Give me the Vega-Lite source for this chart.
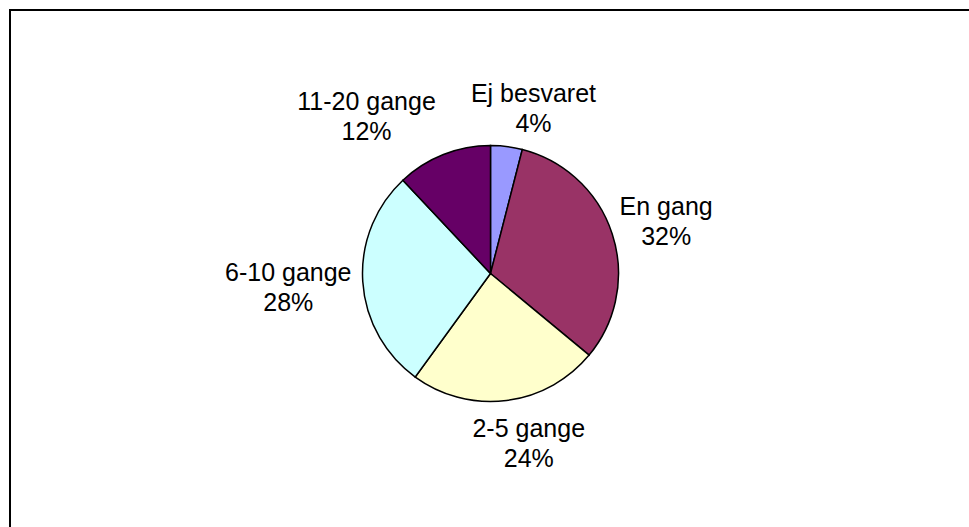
{
  "$schema": "https://vega.github.io/schema/vega-lite/v6.json",
  "width": 961,
  "height": 527,
  "autosize": {"type": "none"},
  "padding": {"left": 10, "top": 10, "right": -2, "bottom": -10},
  "background": "white",
  "view": {"stroke": "black", "strokeWidth": 2, "fill": "white"},
  "config": {
    "font": "Liberation Sans"
  },
  "data": {
    "values": [
      {"i": 1, "cat": "Ej besvaret", "value": 4, "label": "Ej besvaret\n4%"},
      {"i": 2, "cat": "En gang", "value": 32, "label": "En gang\n32%"},
      {"i": 3, "cat": "2-5 gange", "value": 24, "label": "2-5 gange\n24%"},
      {"i": 4, "cat": "6-10 gange", "value": 28, "label": "6-10 gange\n28%"},
      {"i": 5, "cat": "11-20 gange", "value": 12, "label": "11-20 gange\n12%"}
    ]
  },
  "encoding": {
    "theta": {"field": "value", "type": "quantitative", "stack": true},
    "order": {"field": "i", "type": "quantitative"}
  },
  "layer": [
    {
      "mark": {"type": "arc", "outerRadius": 128, "stroke": "black", "strokeWidth": 1.5},
      "encoding": {
        "color": {
          "field": "cat",
          "type": "nominal",
          "scale": {
            "domain": ["Ej besvaret", "En gang", "2-5 gange", "6-10 gange", "11-20 gange"],
            "range": ["#9999FF", "#993366", "#FFFFCC", "#CCFFFF", "#660066"]
          },
          "legend": null
        }
      }
    },
    {
      "mark": {
        "type": "text",
        "radius": 135,
        "fontSize": 25,
        "lineHeight": 30,
        "lineBreak": "\n",
        "color": "black",
        "align": "center",
        "baseline": "middle",
        "dx": {"expr": "clamp(1.4*sin(PI*(datum.value_start+datum.value_end)/100), -0.5, 0.5) * length(datum.cat) * 13.5"},
        "dy": {"expr": "-clamp(0.6*cos(PI*(datum.value_start+datum.value_end)/100), -0.5, 0.5) * 68 - 12"}
      },
      "encoding": {
        "text": {"field": "label", "type": "nominal"}
      }
    }
  ]
}
